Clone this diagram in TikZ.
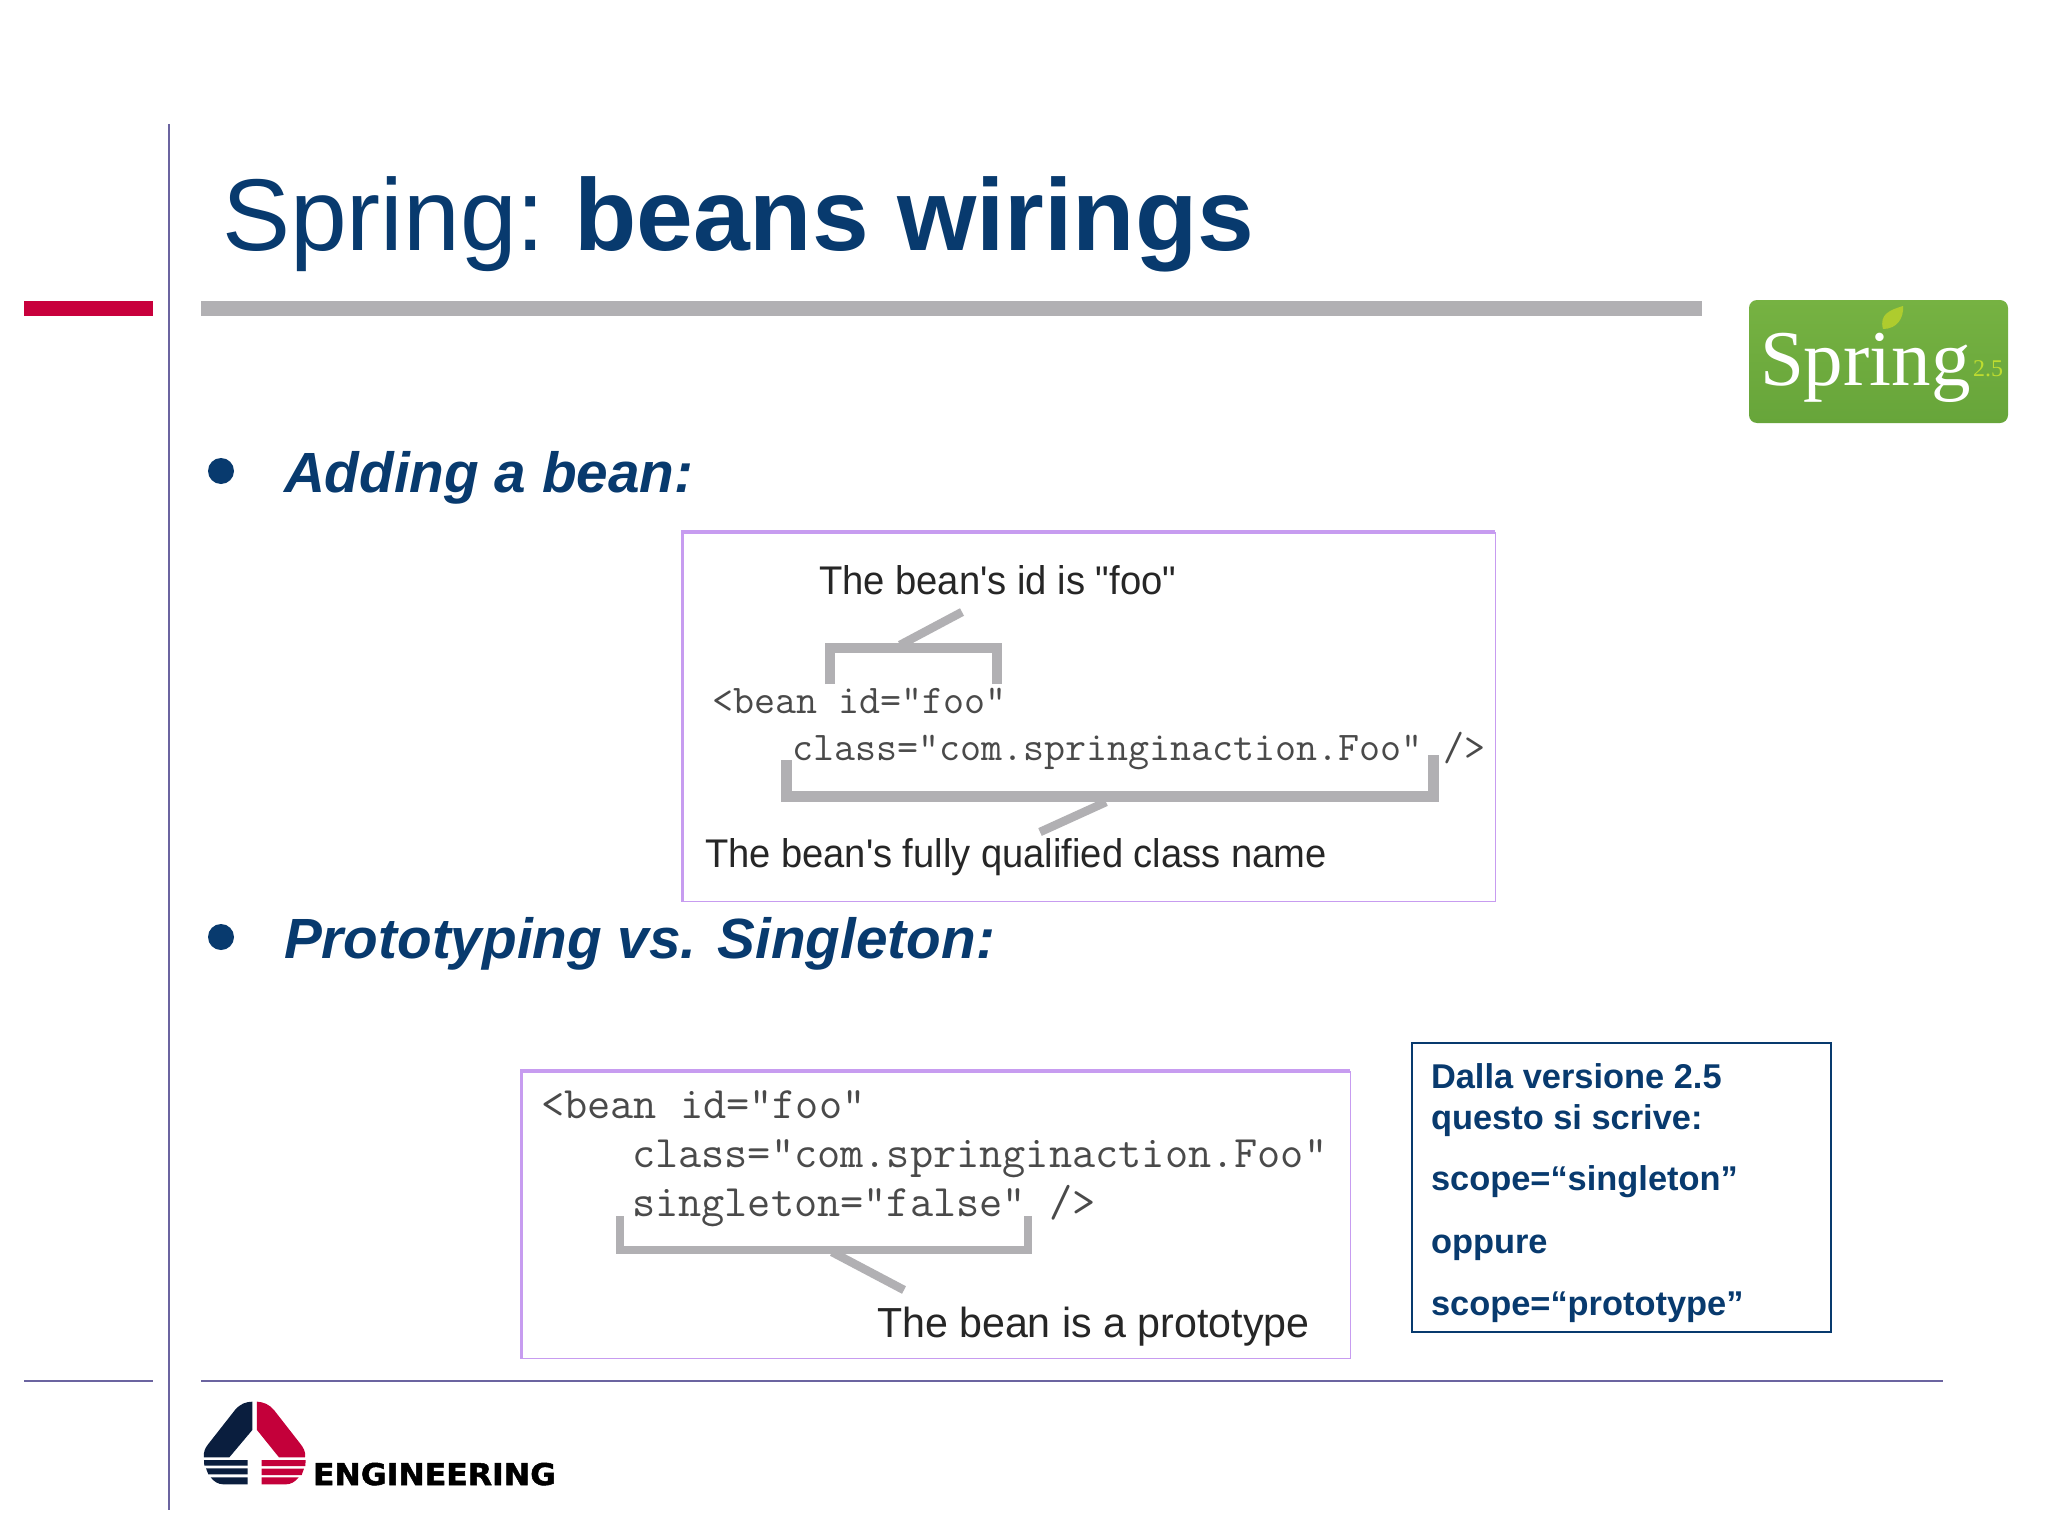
\documentclass[tikz,border=0pt]{standalone}
\usepackage{fontspec}
\usepackage{graphicx}
\setmainfont{Liberation Sans}
\newfontfamily\capface{Liberation Sans}
\newfontfamily\serifface{Liberation Serif}
\newfontfamily\heavyface{DejaVu Sans}[BoldFeatures={FakeBold=1.6}]
\setmonofont{Latin Modern Mono}
\definecolor{navy}{HTML}{083A6E}
\definecolor{rulepurple}{HTML}{6B64A0}
\definecolor{crimson}{HTML}{C8003C}
\definecolor{barGray}{HTML}{B1B0B3}
\definecolor{lilac}{HTML}{C79CF0}
\definecolor{codeGray}{HTML}{4A4A4A}
\definecolor{logoNavy}{HTML}{0A1E3E}
\definecolor{logoRed}{HTML}{C4003A}
\definecolor{sGreenA}{HTML}{76B242}
\definecolor{sGreenB}{HTML}{67A53A}
\definecolor{leafGreen}{HTML}{AECC2E}
\definecolor{verGreen}{HTML}{BEDC30}
\newcommand{\fs}[1]{\fontsize{#1}{#1}\selectfont}
\tikzset{
  txt/.style={anchor=base west,inner sep=0pt,outer sep=0pt},
  titletxt/.style={txt,text=navy,font=\fs{102}},
  headtxt/.style={txt,text=navy,font=\fs{56.7}\bfseries\itshape},
  notetxt/.style={txt,text=navy,font=\fs{34.4}\bfseries},
  codeA/.style={txt,text=codeGray,font=\fs{40.8}\ttfamily},
  codeB/.style={txt,text=codeGray,font=\fs{45}\ttfamily},
  caption/.style={txt,text=black!85,font=\fs{40}\capface},
  captionB/.style={txt,text=black!85,font=\fs{42}\capface},
  brk/.style={draw=barGray,line width=10pt,line cap=butt,line join=miter},
  brkwide/.style={draw=barGray,line width=11pt,line cap=butt,line join=miter},
  brkthin/.style={draw=barGray,line width=8pt,line cap=butt,line join=miter},
  diag/.style={draw=barGray,line width=8.5pt,line cap=butt},
  hair/.style={draw=rulepurple,line width=2pt},
  bullet/.style={circle,fill=navy,draw=none,minimum size=26pt,inner sep=0pt},
}
\begin{document}
\begin{tikzpicture}[x=1pt,y=-1pt]
\useasboundingbox (0,0) rectangle (2048,1536);
\fill[white] (0,0) rectangle (2048,1536);
% frame rules
\draw[hair] (169,124) -- (169,1510);
\draw[hair] (24,1381) -- (153,1381);
\draw[hair] (201,1381) -- (1943,1381);
\fill[crimson] (24,301) rectangle (153,316);
\fill[barGray] (201,301) rectangle (1702,316);
% title
\node[titletxt] (title) at (222,250) {Spring:\hspace{29pt}\textbf{beans wirings}};
% bullets
\node[bullet] (b1) at (221,471) {};
\node[bullet] (b2) at (221,937) {};
\node[headtxt] (h1) at (284,492) {Adding a bean:};
\node[headtxt] (h2) at (284,958) {Prototyping vs. Singleton:};
% Spring logo
\path[top color=sGreenA,bottom color=sGreenB,rounded corners=8pt] (1749,300) rectangle (2008,423);
\node[txt,text=white,font=\fs{79}\serifface] (springword) at (1760,385) {Spring};
\node[txt,font=\fs{24}\serifface,text=verGreen] (springver) at (1973,376) {2.5};
\fill[leafGreen] (1883,329) .. controls (1879,314) and (1890,310) .. (1903,306) .. controls (1904,318) and (1897,329) .. (1883,329) -- cycle;
% first picture
\draw[draw=lilac,line width=1pt] (682,532) rectangle (1495,901);
\fill[lilac] (681,530) rectangle (1495,534);
\fill[lilac] (681,530) rectangle (684,902);
\node[caption] (c1) at (819,594) {\scalebox{.955}[1]{The bean's id is "foo"}};
\node[codeA] (c2) at (712,713) {<bean id="foo"};
\node[codeA] (c3) at (792,760) {class="com.springinaction.Foo" />};
\node[caption] (c4) at (705,867) {\scalebox{.953}[1]{The bean's fully qualified class name}};
\draw[brk] (830,684) -- (830,648) -- (997,648) -- (997,684);
\draw[diag] (900,645) -- (962,612);
\draw[brkwide] (786,760) -- (786,796) -- (1433,796) -- (1433,755);
\draw[diag] (1040,832) -- (1106,802);
% second picture
\draw[draw=lilac,line width=1pt] (521,1071) rectangle (1350,1358);
\fill[lilac] (520,1069) rectangle (1350,1073);
\fill[lilac] (520,1069) rectangle (523,1359);
\node[codeB] (d1) at (541,1118) {<bean id="foo"};
\node[codeB] (d2) at (632,1167) {class="com.springinaction.Foo"};
\node[codeB] (d3) at (632,1216) {singleton="false" />};
\node[captionB] (d4) at (877,1337) {\scalebox{.98}[1]{The bean is a prototype}};
\draw[brkthin] (620,1216) -- (620,1250) -- (1028,1250) -- (1028,1216);
\draw[diag] (832,1252) -- (904,1290);
% note box
\node[draw=navy,line width=2pt,fill=white,minimum width=419pt,minimum height=289pt,inner sep=0pt,anchor=north west] (note) at (1411,1042) {};
\node[notetxt] (n1) at (1431,1088) {Dalla versione 2.5};
\node[notetxt] (n2) at (1431,1129) {questo si scrive:};
\node[notetxt] (n3) at (1431,1190) {scope=“singleton”};
\node[notetxt] (n4) at (1431,1253) {oppure};
\node[notetxt] (n5) at (1431,1315) {scope=“prototype”};
% Engineering logo
\begin{scope}[shift={(180,1380)},x=0.3333pt,y=-0.3333pt]
\fill[logoNavy] (217,65) -- (217,150) -- (148,232) -- (72,232) .. controls (70,215) and (75,205) .. (85,192) -- (165,90) .. controls (180,72) and (198,65) .. (217,65) -- cycle;
\fill[logoRed] (231,65) -- (231,150) -- (297,232) -- (375,232) .. controls (378,215) and (370,203) .. (360,190) -- (282,90) .. controls (268,73) and (250,66) .. (231,65) -- cycle;
\fill[logoNavy] (72,240) -- (203,240) -- (203,257) -- (73,257) -- cycle;
\fill[logoNavy] (78,265) -- (203,265) -- (203,283) -- (85,283) -- cycle;
\fill[logoNavy] (92,292) -- (203,292) -- (203,313) -- (130,313) .. controls (115,313) and (102,305) .. (92,292) -- cycle;
\fill[logoRed] (245,240) -- (377,240) -- (376,258) -- (245,258) -- cycle;
\fill[logoRed] (245,266) -- (372,266) -- (365,285) -- (245,285) -- cycle;
\fill[logoRed] (245,292) -- (356,292) .. controls (346,305) and (333,313) .. (318,313) -- (245,313) -- cycle;
\end{scope}
\node[txt,text=black,font=\fs{30}\heavyface\bfseries] (eng) at (313,1485) {\scalebox{1.05}[1]{ENGINEERING}};
\end{tikzpicture}
\end{document}
